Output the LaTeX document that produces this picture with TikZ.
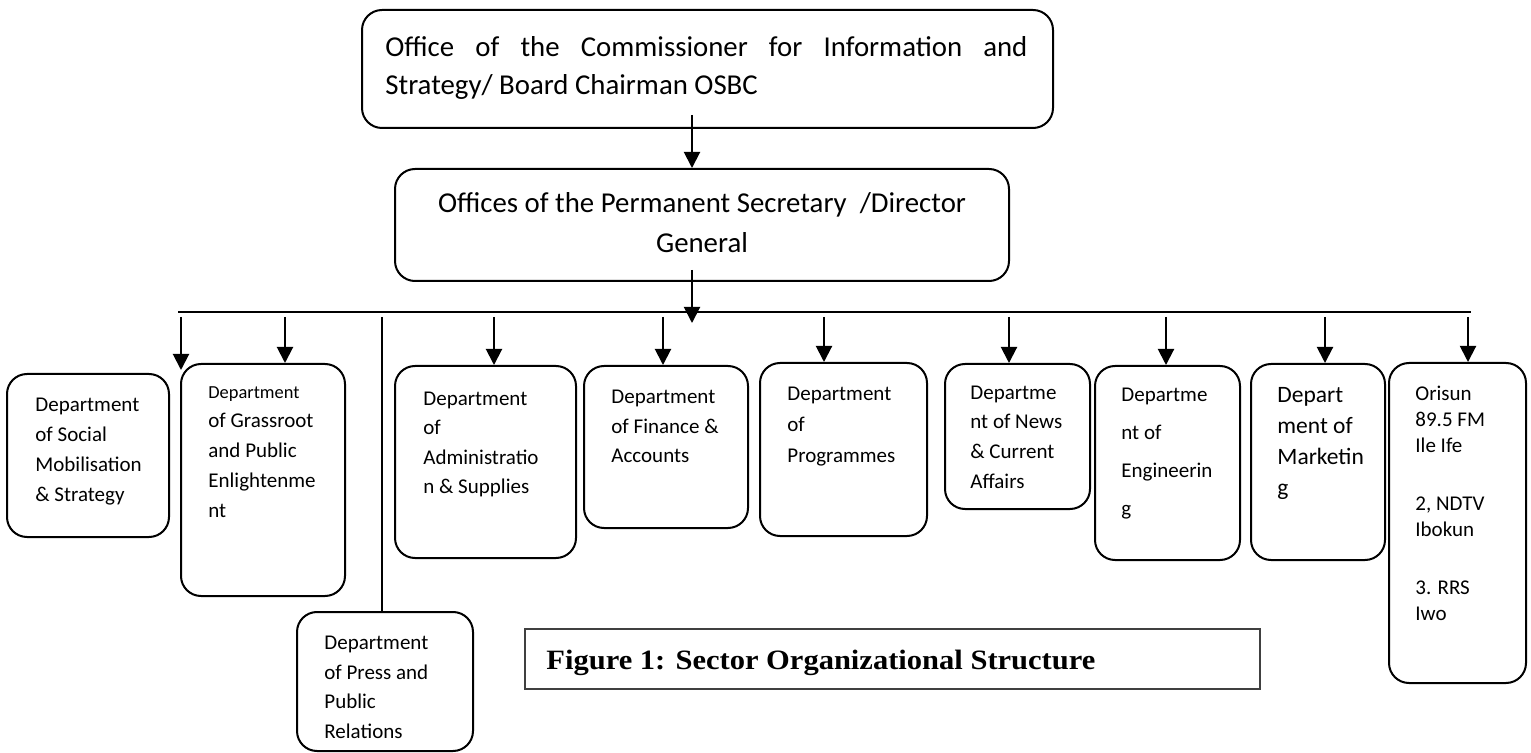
\documentclass[tikz,border=0pt]{standalone}
\usepackage{fontspec}
\setmainfont{Carlito}
\newfontfamily\capfont[FakeStretch=1.09]{Liberation Serif}
\usetikzlibrary{arrows.meta,fit}

% one unit = one pixel of the layout grid, y runs downwards;
% multi-line labels are placed by the baseline of their last line
\tikzset{
  box/.style={draw, line width=1pt, rounded corners=10pt, inner sep=0pt},
  txt/.style={anchor=base west, align=left, inner sep=0pt},
  deptfont/.style={font={\fontsize{10.5pt}{15pt}\selectfont}},
  arr/.style={line width=1pt, -{Triangle[length=8pt,width=8pt]}},
  link/.style={line width=1pt},
}

\begin{document}
\begin{tikzpicture}[x=0.5pt,y=-0.5pt]
\useasboundingbox (0,0) rectangle (1531,753);

% ---- upper offices ----
\node[box, fit={(362,10) (1053,128)}] (top) {};
\node[anchor=base west, inner sep=0pt, text width=321pt, align=justify,
      font={\fontsize{14.4pt}{19pt}\selectfont}] (top-t) at (385,57)
  {Office of the Commissioner for Information and\linebreak Strategy/ Board Chairman OSBC};

\node[box, fit={(395,169) (1009,281)}] (pd) {};
\node[anchor=base, inner sep=0pt, align=center,
      font={\fontsize{14.4pt}{20pt}\selectfont}] (pd-t) at (702,253)
  {Offices of the Permanent Secretary\ \ /Director\\General};

% ---- departments ----
\node[box, fit={(7,374) (169,537)}] (social) {};
\node[txt, deptfont] (social-t) at (35,502)
  {Department\\of Social\\Mobilisation\\\& Strategy};

\node[box, fit={(181,364) (345,596)}] (grass) {};
\node[txt, deptfont] (grass-t) at (208,517)
  {{\fontsize{9.2pt}{15pt}\selectfont Department}\\[-0.5pt]of Grassroot\\and Public\\Enlightenme\\nt};

\node[box, fit={(297,612) (473,751)}] (press) {};
\node[txt, font={\fontsize{10.5pt}{14.7pt}\selectfont}] (press-t) at (324,738)
  {Department\\of Press and\\Public\\Relations};

\node[box, fit={(395,366) (576,558)}] (admin) {};
\node[txt, font={\fontsize{10.5pt}{14.8pt}\selectfont}] (admin-t) at (423,494)
  {Department\\of\\Administratio\\n \& Supplies};

\node[box, fit={(584,366) (748,528)}] (fin) {};
\node[txt, font={\fontsize{10.5pt}{14.8pt}\selectfont}] (fin-t) at (611,463)
  {Department\\of Finance \&\\Accounts};

\node[box, fit={(760,363) (927,536)}] (prog) {};
\node[txt, font={\fontsize{10.5pt}{15.5pt}\selectfont}] (prog-t) at (787,462)
  {Department\\of\\Programmes};

\node[box, fit={(945,364) (1090,509)}] (news) {};
\node[txt, font={\fontsize{10.5pt}{14.8pt}\selectfont}] (news-t) at (970,488)
  {Departme\\nt of News\\\& Current\\Affairs};

\node[box, fit={(1095,366) (1240,560)}] (eng) {};
\node[txt, font={\fontsize{10.5pt}{19pt}\selectfont}] (eng-t) at (1121,516)
  {Departme\\nt of\\Engineerin\\g};

\node[box, fit={(1251,364) (1385,560)}] (mkt) {};
\node[txt, font={\fontsize{11.75pt}{15.5pt}\selectfont}] (mkt-t) at (1277,495)
  {Depart\\ment of\\Marketin\\g};

\node[box, fit={(1389,363) (1526,683)}] (ori) {};
\node[txt, font={\fontsize{10.5pt}{13pt}\selectfont}] (ori-t) at (1415,620)
  {Orisun\\89.5 FM\\Ile Ife\\[16pt]2, NDTV\\Ibokun\\[16pt]3. RRS\\Iwo};

% ---- caption ----
\node[draw=black!75, line width=0.75pt, inner sep=0pt, fit={(525,629) (1260,689)}] (cap) {};
\node[anchor=base west, inner sep=0pt, font={\capfont\bfseries\fontsize{14pt}{16pt}\selectfont}]
  (cap-t) at (546,669) {Figure 1: Sector Organizational Structure};

% ---- connectors ----
\coordinate (a0) at (692,115);
\draw[arr] (a0) -- (a0 |- pd.north);
\coordinate (a1) at (692,270);
\coordinate (a1e) at (692,323);
\draw[arr] (a1) -- (a1e);

\coordinate (busL) at (178,312);
\coordinate (busR) at (1471,312);
\draw[link] (busL) -- (busR);

\coordinate (d1) at (181,317);
\coordinate (t1) at (181,370);
\draw[arr] (d1) -- (t1);
\coordinate (d2) at (285,317);
\draw[arr] (d2) -- (d2 |- grass.north);
\coordinate (d3) at (382,317);
\draw[link] (d3) -- (d3 |- press.north);
\coordinate (d4) at (494,317);
\draw[arr] (d4) -- (d4 |- admin.north);
\coordinate (d5) at (663,317);
\draw[arr] (d5) -- (d5 |- fin.north);
\coordinate (d6) at (824,317);
\draw[arr] (d6) -- (d6 |- prog.north);
\coordinate (d7) at (1009,317);
\draw[arr] (d7) -- (d7 |- news.north);
\coordinate (d8) at (1166,317);
\draw[arr] (d8) -- (d8 |- eng.north);
\coordinate (d9) at (1325,317);
\draw[arr] (d9) -- (d9 |- mkt.north);
\coordinate (d10) at (1468,317);
\draw[arr] (d10) -- (d10 |- ori.north);
\end{tikzpicture}
\end{document}
